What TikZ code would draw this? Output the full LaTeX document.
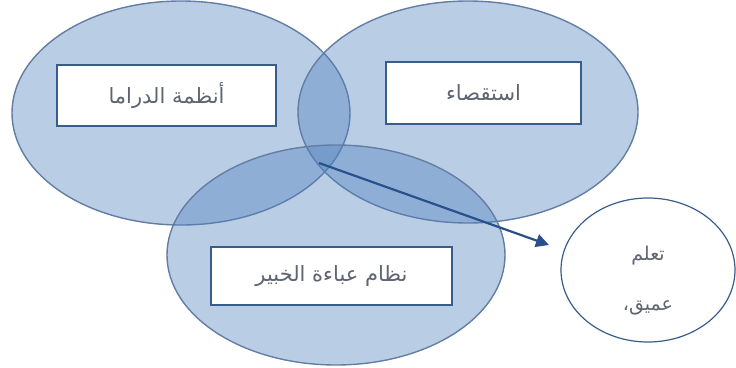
\documentclass[tikz,border=0pt]{standalone}
\usepackage{fontspec}
\usetikzlibrary{shapes.geometric,arrows.meta}
\newfontfamily\arabicfont[Script=Arabic]{DejaVu Sans}
\TeXXeTstate=1
\definecolor{venn}{RGB}{79,129,189}
\definecolor{vennline}{RGB}{100,125,165}
\definecolor{boxline}{RGB}{56,93,138}
\definecolor{txt}{RGB}{95,100,115}
\definecolor{arrowc}{RGB}{40,80,140}
\tikzset{
  vennset/.style={ellipse, draw=vennline, line width=1.4pt, fill=venn, fill opacity=0.4, inner sep=0pt},
  labelbox/.style={draw=boxline, line width=2pt, fill=white, inner sep=0pt, text=txt, font=\arabicfont\fontsize{21}{24}\selectfont},
  resultset/.style={ellipse, draw=boxline, line width=1.2pt, fill=white, inner sep=0pt, text=txt, align=center},
}
\begin{document}
\begin{tikzpicture}[x=1pt,y=-1pt]
\useasboundingbox (0,0) rectangle (736,367);
\node[vennset, minimum width=338pt, minimum height=224pt] (drama) at (181,113) {};
\node[vennset, minimum width=340pt, minimum height=222pt] (inquiry) at (468,112) {};
\node[vennset, minimum width=338pt, minimum height=220pt] (mantle) at (336,255) {};
\coordinate (astart) at (319,163);
\coordinate (aend) at (549,245);
\draw[arrowc, line width=2.2pt, -{Triangle[length=13pt,width=13pt]}] (astart) -- (aend);
\node[labelbox, minimum width=219pt, minimum height=61pt] (b1) at (166.5,95.5) {\beginR أنظمة الدراما\endR};
\node[labelbox, minimum width=195pt, minimum height=62pt] (b2) at (483.5,93) {\beginR استقصاء\endR};
\node[labelbox, minimum width=241pt, minimum height=58pt] (b3) at (331.5,276) {\beginR نظام عباءة الخبير\endR};
\node[resultset, minimum width=174pt, minimum height=144pt] (deep) at (648,270) {};
\node[text=txt, font=\arabicfont\fontsize{19}{50}\selectfont, align=center] (deeptext) at (648,281) {\beginR تعلم\endR\\ \beginR عميق،\endR};
\end{tikzpicture}
\end{document}
